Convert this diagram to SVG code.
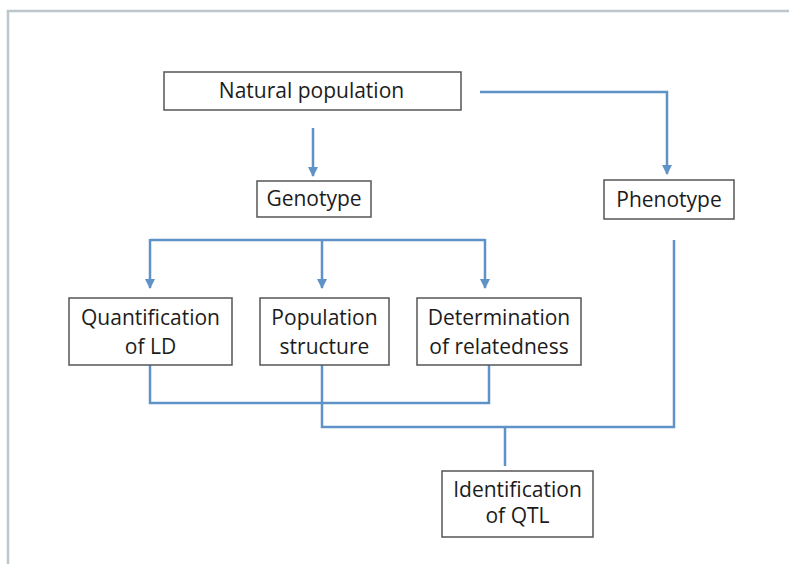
<svg xmlns="http://www.w3.org/2000/svg" width="789" height="564" viewBox="0 0 789 564">
  <style>
    .frame { fill: none; stroke: #bcc6cc; stroke-width: 2.5; }
    .box { fill: #ffffff; stroke: #555555; stroke-width: 1.5; }
    .lbl { font-family: "Open Sans", "Noto Sans", "DejaVu Sans", sans-serif; font-size: 21px; fill: #1c1c1c; text-anchor: middle; }
    .wire { fill: none; stroke: #5f93c8; stroke-width: 2.5; stroke-linejoin: miter; }
  </style>
  <defs>
    <marker id="tip" viewBox="0 0 10 10" refX="9" refY="5" markerWidth="4" markerHeight="4" orient="auto" markerUnits="strokeWidth">
      <path d="M0,0 L10,5 L0,10 Z" fill="#5f93c8"/>
    </marker>
  </defs>

  <rect width="789" height="564" fill="#ffffff"/>
  <!-- page frame -->
  <path class="frame" d="M8,564 L8,11 L789,11"/>

  <!-- connectors -->
  <g id="connectors">
    <path class="wire" d="M313,128 L313,176" marker-end="url(#tip)"/>
    <path class="wire" d="M480,92 L667,92 L667,174" marker-end="url(#tip)"/>
    <path class="wire" d="M150,240 L485,240"/>
    <path class="wire" d="M150,239 L150,288" marker-end="url(#tip)"/>
    <path class="wire" d="M322,240 L322,288" marker-end="url(#tip)"/>
    <path class="wire" d="M485,239 L485,288" marker-end="url(#tip)"/>
    <path class="wire" d="M150,365 L150,403 L489,403 L489,365"/>
    <path class="wire" d="M322,365 L322,427 L674,427 L674,240"/>
    <path class="wire" d="M505,427 L505,466"/>
  </g>

  <g id="natural-population">
    <rect class="box" x="164" y="72" width="297" height="38"/>
    <text class="lbl" x="311.5" y="98">Natural population</text>
  </g>

  <g id="genotype">
    <rect class="box" x="257" y="181" width="114" height="36"/>
    <text class="lbl" x="314" y="206">Genotype</text>
  </g>

  <g id="phenotype">
    <rect class="box" x="604" y="180" width="130" height="39"/>
    <text class="lbl" x="669" y="206.5">Phenotype</text>
  </g>

  <g id="quantification-ld">
    <rect class="box" x="69" y="298" width="163" height="67"/>
    <text class="lbl" x="150.5" y="324.5">Quantification</text>
    <text class="lbl" x="150.5" y="354">of LD</text>
  </g>

  <g id="population-structure">
    <rect class="box" x="260" y="298" width="129" height="67"/>
    <text class="lbl" x="324.5" y="324.5">Population</text>
    <text class="lbl" x="324.5" y="354">structure</text>
  </g>

  <g id="relatedness">
    <rect class="box" x="417" y="298" width="164" height="67"/>
    <text class="lbl" x="499" y="324.5">Determination</text>
    <text class="lbl" x="499" y="354">of relatedness</text>
  </g>

  <g id="qtl">
    <rect class="box" x="442" y="471" width="151" height="66"/>
    <text class="lbl" x="517.5" y="496.5">Identification</text>
    <text class="lbl" x="517.5" y="523">of QTL</text>
  </g>
</svg>
